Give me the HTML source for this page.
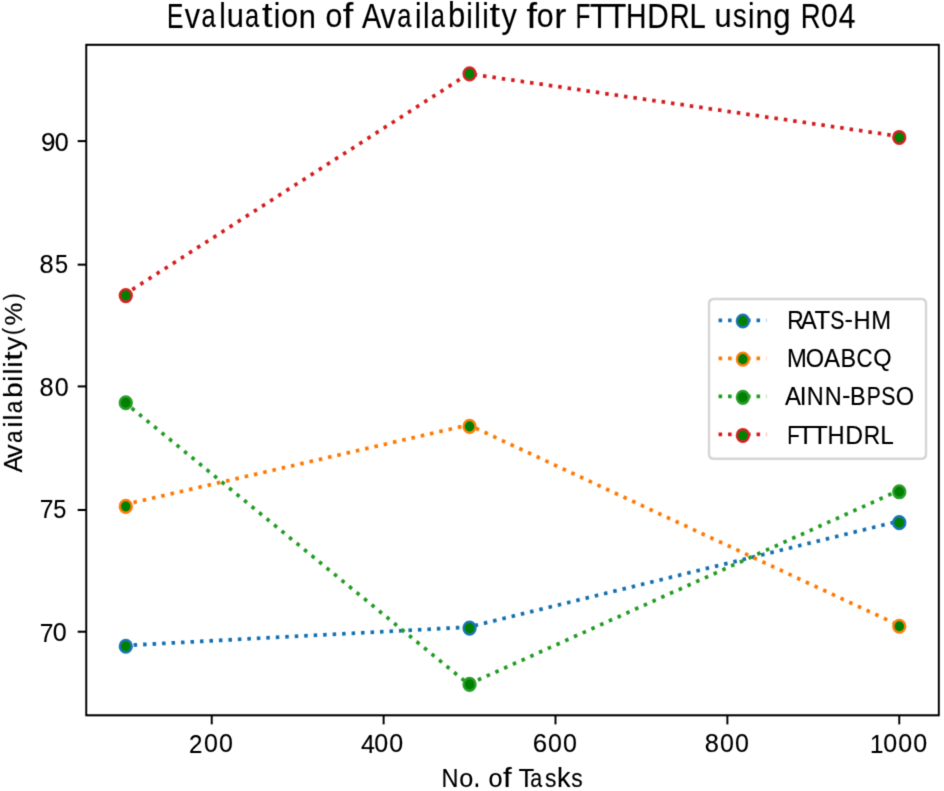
<!DOCTYPE html>
<html><head><meta charset="utf-8"><style>
html,body{margin:0;padding:0;background:#fff;overflow:hidden;}
svg{display:block;will-change:transform;}
text{font-family:"Liberation Sans",sans-serif;}
</style></head><body>
<svg width="944" height="791" viewBox="0 0 944 791">
<defs><filter id="bl" x="0" y="0" width="944" height="791" filterUnits="userSpaceOnUse" color-interpolation-filters="sRGB"><feConvolveMatrix order="7 1" kernelMatrix="-0.00622 -0.02222 0.17170 0.71348 0.17170 -0.02222 -0.00622" divisor="1" edgeMode="duplicate" preserveAlpha="true" result="h"/><feConvolveMatrix in="h" order="1 7" kernelMatrix="-0.00622 -0.02222 0.17170 0.71348 0.17170 -0.02222 -0.00622" divisor="1" edgeMode="duplicate" preserveAlpha="true"/></filter></defs>
<g filter="url(#bl)">
<rect width="944" height="791" fill="#fff"/>
<g transform="matrix(1.71885 0 0 1.81707 -52.116 -61.499)">
<polyline points="102.545,389.093 302.949,378.939 553.455,320.607" fill="none" stroke="#1f77b4" stroke-width="2.083" stroke-dasharray="2.083 3.437"/>
<circle cx="103.5" cy="389.5" r="3.472" fill="#008000" stroke="#1f77b4" stroke-width="1.389"/>
<circle cx="303.5" cy="379.5" r="3.472" fill="#008000" stroke="#1f77b4" stroke-width="1.389"/>
<circle cx="553.5" cy="321.5" r="3.472" fill="#008000" stroke="#1f77b4" stroke-width="1.389"/>
<polyline points="102.545,311.588 302.949,267.677 553.455,378.061" fill="none" stroke="#ff7f0e" stroke-width="2.083" stroke-dasharray="2.083 3.437"/>
<circle cx="103.5" cy="312.5" r="3.472" fill="#008000" stroke="#ff7f0e" stroke-width="1.389"/>
<circle cx="303.5" cy="268.5" r="3.472" fill="#008000" stroke="#ff7f0e" stroke-width="1.389"/>
<circle cx="553.5" cy="378.5" r="3.472" fill="#008000" stroke="#ff7f0e" stroke-width="1.389"/>
<polyline points="102.545,255.065 302.949,410.4 553.455,303.729" fill="none" stroke="#2ca02c" stroke-width="2.083" stroke-dasharray="2.083 3.437"/>
<circle cx="103.5" cy="255.5" r="3.472" fill="#008000" stroke="#2ca02c" stroke-width="1.389"/>
<circle cx="303.5" cy="410.5" r="3.472" fill="#008000" stroke="#2ca02c" stroke-width="1.389"/>
<circle cx="553.5" cy="304.5" r="3.472" fill="#008000" stroke="#2ca02c" stroke-width="1.389"/>
<polyline points="102.545,196.072 302.949,74.4 553.455,108.832" fill="none" stroke="#d62728" stroke-width="2.083" stroke-dasharray="2.083 3.437"/>
<circle cx="103.5" cy="196.5" r="3.472" fill="#008000" stroke="#d62728" stroke-width="1.389"/>
<circle cx="303.5" cy="74.5" r="3.472" fill="#008000" stroke="#d62728" stroke-width="1.389"/>
<circle cx="553.5" cy="109.5" r="3.472" fill="#008000" stroke="#d62728" stroke-width="1.389"/>
<rect x="80.5" y="58.5" width="496" height="369" fill="none" stroke="#000" stroke-width="1.111" stroke-linejoin="miter"/>
<line x1="153.5" y1="427.5" x2="153.5" y2="432.5" stroke="#000" stroke-width="1.111"/>
<line x1="253.5" y1="427.5" x2="253.5" y2="432.5" stroke="#000" stroke-width="1.111"/>
<line x1="353.5" y1="427.5" x2="353.5" y2="432.5" stroke="#000" stroke-width="1.111"/>
<line x1="453.5" y1="427.5" x2="453.5" y2="432.5" stroke="#000" stroke-width="1.111"/>
<line x1="553.5" y1="427.5" x2="553.5" y2="432.5" stroke="#000" stroke-width="1.111"/>
<line x1="80.5" y1="111.5" x2="75.5" y2="111.5" stroke="#000" stroke-width="1.111"/>
<line x1="80.5" y1="179.5" x2="75.5" y2="179.5" stroke="#000" stroke-width="1.111"/>
<line x1="80.5" y1="246.5" x2="75.5" y2="246.5" stroke="#000" stroke-width="1.111"/>
<line x1="80.5" y1="314.5" x2="75.5" y2="314.5" stroke="#000" stroke-width="1.111"/>
<line x1="80.5" y1="381.5" x2="75.5" y2="381.5" stroke="#000" stroke-width="1.111"/>
<path d="M445.583 286.372 L566.278 286.372 Q569.056 286.372 569.056 283.594 L569.056 201.206 Q569.056 198.428 566.278 198.428 L445.583 198.428 Q442.806 198.428 442.806 201.206 L442.806 283.594 Q442.806 286.372 445.583 286.372 Z" fill="#fff" fill-opacity="0.8" stroke="#ccc" stroke-opacity="0.8" stroke-width="1.389"/>
<line x1="448.361" y1="210.122" x2="476.139" y2="210.122" stroke="#1f77b4" stroke-width="2.083" stroke-dasharray="2.083 3.437"/>
<circle cx="462.5" cy="210.5" r="3.472" fill="#008000" stroke="#1f77b4" stroke-width="1.389"/>
<line x1="448.361" y1="231.067" x2="476.139" y2="231.067" stroke="#ff7f0e" stroke-width="2.083" stroke-dasharray="2.083 3.437"/>
<circle cx="462.5" cy="231.5" r="3.472" fill="#008000" stroke="#ff7f0e" stroke-width="1.389"/>
<line x1="448.361" y1="252.011" x2="476.139" y2="252.011" stroke="#2ca02c" stroke-width="2.083" stroke-dasharray="2.083 3.437"/>
<circle cx="462.5" cy="252.5" r="3.472" fill="#008000" stroke="#2ca02c" stroke-width="1.389"/>
<line x1="448.361" y1="272.956" x2="476.139" y2="272.956" stroke="#d62728" stroke-width="2.083" stroke-dasharray="2.083 3.437"/>
<circle cx="462.5" cy="273.5" r="3.472" fill="#008000" stroke="#d62728" stroke-width="1.389"/>
</g>
<g font-size="40" fill="#000" stroke="#000" stroke-width="0.2">
<text transform="matrix(0.6021 0 0 0.6513 189.04 752.55)">2</text>
<text transform="matrix(0.6243 0 0 0.6421 204.07 752.29)">0</text>
<text transform="matrix(0.6243 0 0 0.6421 219.11 752.29)">0</text>
<text transform="matrix(0.6236 0 0 0.6608 361.03 752.55)">4</text>
<text transform="matrix(0.6243 0 0 0.6421 374.23 752.29)">0</text>
<text transform="matrix(0.6243 0 0 0.6421 389.27 752.29)">0</text>
<text transform="matrix(0.6446 0 0 0.6421 532.72 752.29)">6</text>
<text transform="matrix(0.6243 0 0 0.6421 548.05 752.29)">0</text>
<text transform="matrix(0.6243 0 0 0.6421 563.09 752.29)">0</text>
<text transform="matrix(0.6343 0 0 0.6421 704.82 752.29)">8</text>
<text transform="matrix(0.6243 0 0 0.6421 719.94 752.29)">0</text>
<text transform="matrix(0.6243 0 0 0.6421 734.98 752.29)">0</text>
<text transform="matrix(0.6023 0 0 0.6608 870.07 752.55)">1</text>
<text transform="matrix(0.6243 0 0 0.6421 883.23 752.29)">0</text>
<text transform="matrix(0.6243 0 0 0.6421 898.27 752.29)">0</text>
<text transform="matrix(0.6243 0 0 0.6421 913.31 752.29)">0</text>
<text transform="matrix(0.5877 0 0 0.6608 441.62 787.07)">N</text>
<text transform="matrix(0.6309 0 0 0.6638 459.24 786.81)">o</text>
<text transform="matrix(0.6060 0 0 0.7791 473.60 787.07)">.</text>
<text transform="matrix(0.6309 0 0 0.6638 488.46 786.81)">o</text>
<text transform="matrix(0.7804 0 0 0.6916 503.03 787.07)">f</text>
<text transform="matrix(0.6465 0 0 0.6608 518.39 787.07)">T</text>
<text transform="matrix(0.5371 0 0 0.6638 530.31 786.81)">a</text>
<text transform="matrix(0.5694 0 0 0.6638 545.12 786.81)">s</text>
<text transform="matrix(0.6753 0 0 0.6892 557.11 787.07)">k</text>
<text transform="matrix(0.5694 0 0 0.6638 571.33 786.81)">s</text>
<text transform="matrix(0.6139 0 0 0.6608 39.69 641.71)">7</text>
<text transform="matrix(0.6243 0 0 0.6421 52.81 641.45)">0</text>
<text transform="matrix(0.6139 0 0 0.6608 39.69 518.15)">7</text>
<text transform="matrix(0.5880 0 0 0.6513 53.19 517.89)">5</text>
<text transform="matrix(0.6343 0 0 0.6421 39.62 396.15)">8</text>
<text transform="matrix(0.6243 0 0 0.6421 54.74 396.15)">0</text>
<text transform="matrix(0.6343 0 0 0.6421 39.62 272.59)">8</text>
<text transform="matrix(0.5880 0 0 0.6513 55.12 272.58)">5</text>
<text transform="matrix(0.6504 0 0 0.6421 40.97 150.84)">9</text>
<text transform="matrix(0.6243 0 0 0.6421 54.74 150.84)">0</text>
<text transform="matrix(0 -0.6353 0.6250 0 21.80 472.58)">A</text>
<text transform="matrix(0 -0.6768 0.6517 0 21.80 457.94)">v</text>
<text transform="matrix(0 -0.5678 0.6279 0 21.54 443.02)">a</text>
<text transform="matrix(0 -0.6814 0.6520 0 21.80 427.54)">i</text>
<text transform="matrix(0 -0.6814 0.6520 0 21.80 420.50)">l</text>
<text transform="matrix(0 -0.5678 0.6279 0 21.54 413.27)">a</text>
<text transform="matrix(0 -0.6877 0.6431 0 21.54 397.74)">b</text>
<text transform="matrix(0 -0.6814 0.6520 0 21.80 381.66)">i</text>
<text transform="matrix(0 -0.6814 0.6520 0 21.80 374.62)">l</text>
<text transform="matrix(0 -0.6814 0.6520 0 21.80 367.58)">i</text>
<text transform="matrix(0 -0.8462 0.6586 0 21.60 360.80)">t</text>
<text transform="matrix(0 -0.6782 0.6431 0 21.61 350.25)">y</text>
<text transform="matrix(0 -0.5330 0.5760 0 19.59 335.05)">(</text>
<text transform="matrix(0 -0.6440 0.6139 0 21.67 325.53)">%</text>
<text transform="matrix(0 -0.5303 0.5760 0 19.59 300.31)">)</text>
<text transform="matrix(0.6139 0 0 0.8590 166.95 27.54)">E</text>
<text transform="matrix(0.7677 0 0 0.8612 184.79 27.54)">v</text>
<text transform="matrix(0.6362 0 0 0.8297 201.62 27.21)">a</text>
<text transform="matrix(0.7366 0 0 0.8772 219.19 27.54)">l</text>
<text transform="matrix(0.7710 0 0 0.8451 226.70 27.20)">u</text>
<text transform="matrix(0.6362 0 0 0.8297 245.02 27.21)">a</text>
<text transform="matrix(0.9479 0 0 0.8702 262.08 27.28)">t</text>
<text transform="matrix(0.7367 0 0 0.8772 273.77 27.54)">i</text>
<text transform="matrix(0.7574 0 0 0.8297 281.13 27.21)">o</text>
<text transform="matrix(0.7710 0 0 0.8451 298.81 27.54)">n</text>
<text transform="matrix(0.7574 0 0 0.8297 325.60 27.21)">o</text>
<text transform="matrix(0.9425 0 0 0.8802 342.87 27.54)">f</text>
<text transform="matrix(0.7206 0 0 0.8590 362.06 27.54)">A</text>
<text transform="matrix(0.7677 0 0 0.8612 380.53 27.54)">v</text>
<text transform="matrix(0.6362 0 0 0.8297 397.36 27.21)">a</text>
<text transform="matrix(0.7366 0 0 0.8772 414.93 27.54)">i</text>
<text transform="matrix(0.7367 0 0 0.8772 422.88 27.54)">l</text>
<text transform="matrix(0.6362 0 0 0.8297 430.66 27.21)">a</text>
<text transform="matrix(0.7759 0 0 0.8653 447.99 27.19)">b</text>
<text transform="matrix(0.7367 0 0 0.8772 466.28 27.54)">i</text>
<text transform="matrix(0.7367 0 0 0.8772 474.23 27.54)">l</text>
<text transform="matrix(0.7367 0 0 0.8772 482.18 27.54)">i</text>
<text transform="matrix(0.9479 0 0 0.8702 489.61 27.28)">t</text>
<text transform="matrix(0.7677 0 0 0.8653 501.38 27.62)">y</text>
<text transform="matrix(0.9425 0 0 0.8802 526.57 27.54)">f</text>
<text transform="matrix(0.7574 0 0 0.8297 536.81 27.21)">o</text>
<text transform="matrix(0.9041 0 0 0.8584 554.22 27.54)">r</text>
<text transform="matrix(0.6088 0 0 0.8590 575.62 27.54)">F</text>
<text transform="matrix(0.7796 0 0 0.8590 590.03 27.54)">T</text>
<text transform="matrix(0.7796 0 0 0.8590 607.22 27.54)">T</text>
<text transform="matrix(0.7094 0 0 0.8590 625.99 27.54)">H</text>
<text transform="matrix(0.7434 0 0 0.8590 647.37 27.54)">D</text>
<text transform="matrix(0.6879 0 0 0.8590 669.68 27.54)">R</text>
<text transform="matrix(0.7309 0 0 0.8590 689.52 27.54)">L</text>
<text transform="matrix(0.7710 0 0 0.8451 714.42 27.20)">u</text>
<text transform="matrix(0.6814 0 0 0.8297 732.97 27.21)">s</text>
<text transform="matrix(0.7366 0 0 0.8772 747.95 27.54)">i</text>
<text transform="matrix(0.7710 0 0 0.8451 755.60 27.54)">n</text>
<text transform="matrix(0.7759 0 0 0.8537 773.33 27.72)">g</text>
<text transform="matrix(0.6879 0 0 0.8590 800.74 27.54)">R</text>
<text transform="matrix(0.7495 0 0 0.8347 820.94 27.20)">0</text>
<text transform="matrix(0.7499 0 0 0.8590 838.86 27.54)">4</text>
<text transform="matrix(0.5689 0 0 0.6608 787.17 329.17)">R</text>
<text transform="matrix(0.6010 0 0 0.6608 800.78 329.17)">A</text>
<text transform="matrix(0.6465 0 0 0.6608 814.46 329.17)">T</text>
<text transform="matrix(0.5302 0 0 0.6421 830.20 328.91)">S</text>
<text transform="matrix(0.6358 0 0 0.6411 844.62 327.99)">-</text>
<text transform="matrix(0.5925 0 0 0.6608 853.48 329.17)">H</text>
<text transform="matrix(0.5955 0 0 0.6608 871.31 329.17)">M</text>
<text transform="matrix(0.5955 0 0 0.6608 787.08 367.33)">M</text>
<text transform="matrix(0.5903 0 0 0.6421 805.76 367.07)">O</text>
<text transform="matrix(0.6010 0 0 0.6608 823.98 367.33)">A</text>
<text transform="matrix(0.5851 0 0 0.6608 840.62 367.33)">B</text>
<text transform="matrix(0.5541 0 0 0.6421 856.48 367.07)">C</text>
<text transform="matrix(0.5903 0 0 0.5886 873.22 365.58)">Q</text>
<text transform="matrix(0.6010 0 0 0.6608 785.09 405.49)">A</text>
<text transform="matrix(0.6097 0 0 0.6608 799.68 405.49)">I</text>
<text transform="matrix(0.5877 0 0 0.6608 806.87 405.49)">N</text>
<text transform="matrix(0.5877 0 0 0.6608 824.71 405.49)">N</text>
<text transform="matrix(0.6358 0 0 0.6411 842.05 404.31)">-</text>
<text transform="matrix(0.5851 0 0 0.6608 850.07 405.49)">B</text>
<text transform="matrix(0.5245 0 0 0.6608 866.81 405.49)">P</text>
<text transform="matrix(0.5302 0 0 0.6421 881.13 405.23)">S</text>
<text transform="matrix(0.5903 0 0 0.6421 895.78 405.23)">O</text>
<text transform="matrix(0.5082 0 0 0.6608 787.37 443.65)">F</text>
<text transform="matrix(0.6465 0 0 0.6608 797.70 443.65)">T</text>
<text transform="matrix(0.6465 0 0 0.6608 811.88 443.65)">T</text>
<text transform="matrix(0.5925 0 0 0.6608 827.48 443.65)">H</text>
<text transform="matrix(0.6165 0 0 0.6608 845.24 443.65)">D</text>
<text transform="matrix(0.5689 0 0 0.6608 863.87 443.65)">R</text>
<text transform="matrix(0.6089 0 0 0.6608 880.29 443.65)">L</text>
</g>
</g>
</svg>
</body></html>
